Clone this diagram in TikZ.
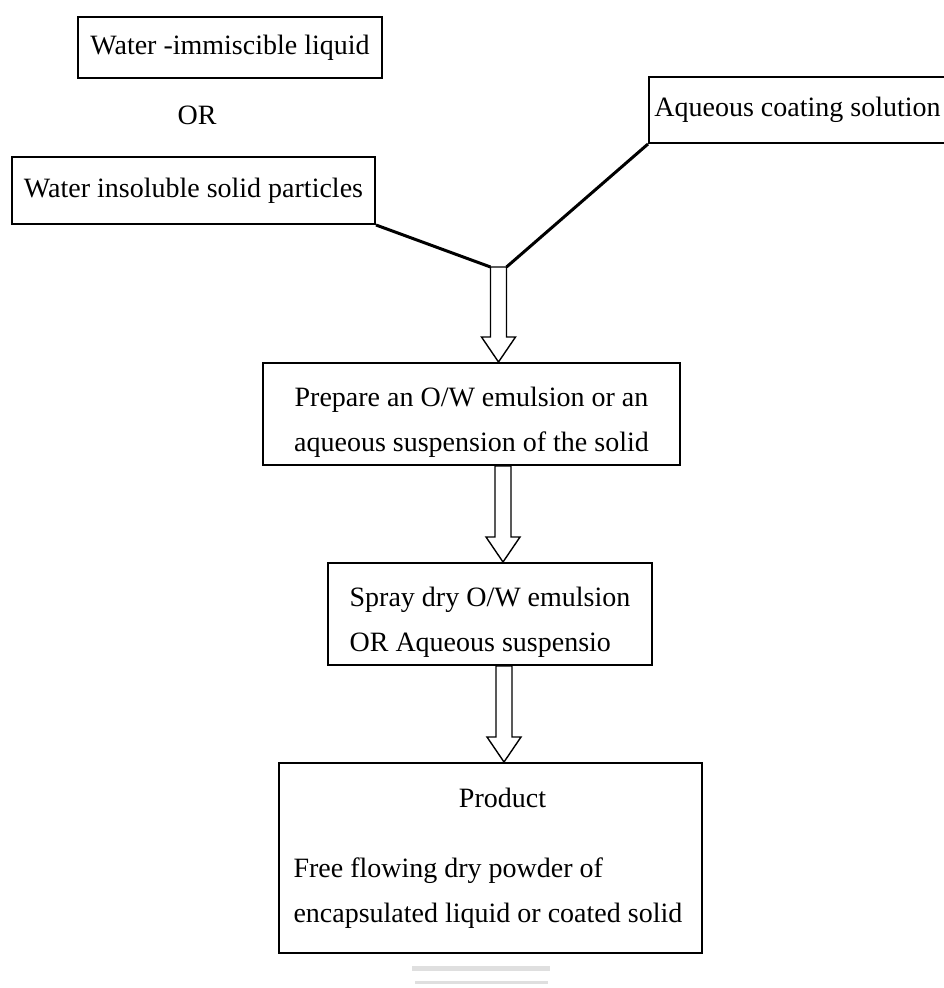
\documentclass[tikz,border=0pt]{standalone}
\usepackage{fontspec}
\setmainfont{Liberation Serif}
\usetikzlibrary{calc}

\tikzset{
  boite/.style={draw, line width=1pt, inner sep=0pt, font=\fontsize{14}{22.5}\selectfont},
  lien/.style={line width=1.5pt},
  fleche/.style={line width=0.7pt, line join=miter},
}
% fleche creuse verticale de #1 vers #2
\newcommand{\flechecreuse}[2]{%
  \coordinate (fa) at (#1);
  \coordinate (fb) at (#2);
  \draw[fleche] ($(fa)+(-8,0)$) -- ($(fb)+(-8,-25)$) -- ($(fb)+(-17,-25)$) -- (fb)
    -- ($(fb)+(17,-25)$) -- ($(fb)+(8,-25)$) -- ($(fa)+(8,0)$) -- cycle;
}
\newcommand{\haut}{\rule{0pt}{18pt}}

\begin{document}
\begin{tikzpicture}[x=0.5pt,y=-0.5pt]
        \useasboundingbox (0,0) rectangle (943,988);
        % Produits de depart
        \node[boite, minimum width=152pt, minimum height=30.5pt] (liquide) at (230,47.5) {Water -immiscible liquid};
        \node[font=\fontsize{14}{16}\selectfont] (ou) at (197,115) {OR};
        \node[boite, minimum width=181.5pt, minimum height=33.5pt] (particules) at (193.5,190.5) {Water insoluble solid particles};
        \node[boite, minimum width=148.5pt, minimum height=33pt] (enrobage) at (797.5,110) {Aqueous coating solution};
        % Etapes
        \node[boite, minimum width=208.5pt, minimum height=51pt, align=center] (emulsion) at (471.5,414)
          {\haut Prepare an O/W emulsion or an\\aqueous suspension of the solid};
        \node[boite, minimum width=162pt, minimum height=51pt, align=left] (sechage) at (490,614)
          {\haut Spray dry O/W emulsion\\OR Aqueous suspensio};
        \node[boite, minimum width=211.5pt, minimum height=95pt, align=left] (produit) at (490.5,858)
          {\makebox[197pt]{\hspace{12pt}Product}\\[12.5pt]Free flowing dry powder of\\encapsulated liquid or coated solid};
        % Jonction et fleches
        \coordinate (jn) at (498.5,267);
        \draw[lien] (particules.south east) -- ($(jn)+(-8,0)$);
        \draw[lien] (enrobage.south west) -- ($(jn)+(8,0)$);
        \flechecreuse{jn}{jn |- emulsion.north}
        \coordinate (col2) at (503,0);
        \flechecreuse{col2 |- emulsion.south}{col2 |- sechage.north}
        \coordinate (col3) at (504,0);
        \flechecreuse{col3 |- sechage.south}{col3 |- produit.north}
        % Traits gris sous le produit
        \draw[gray!25, line width=2.5pt] (412,968) -- (550,968);
        \draw[gray!25, line width=1.5pt] (415,982) -- (548,982);
\end{tikzpicture}
\end{document}
